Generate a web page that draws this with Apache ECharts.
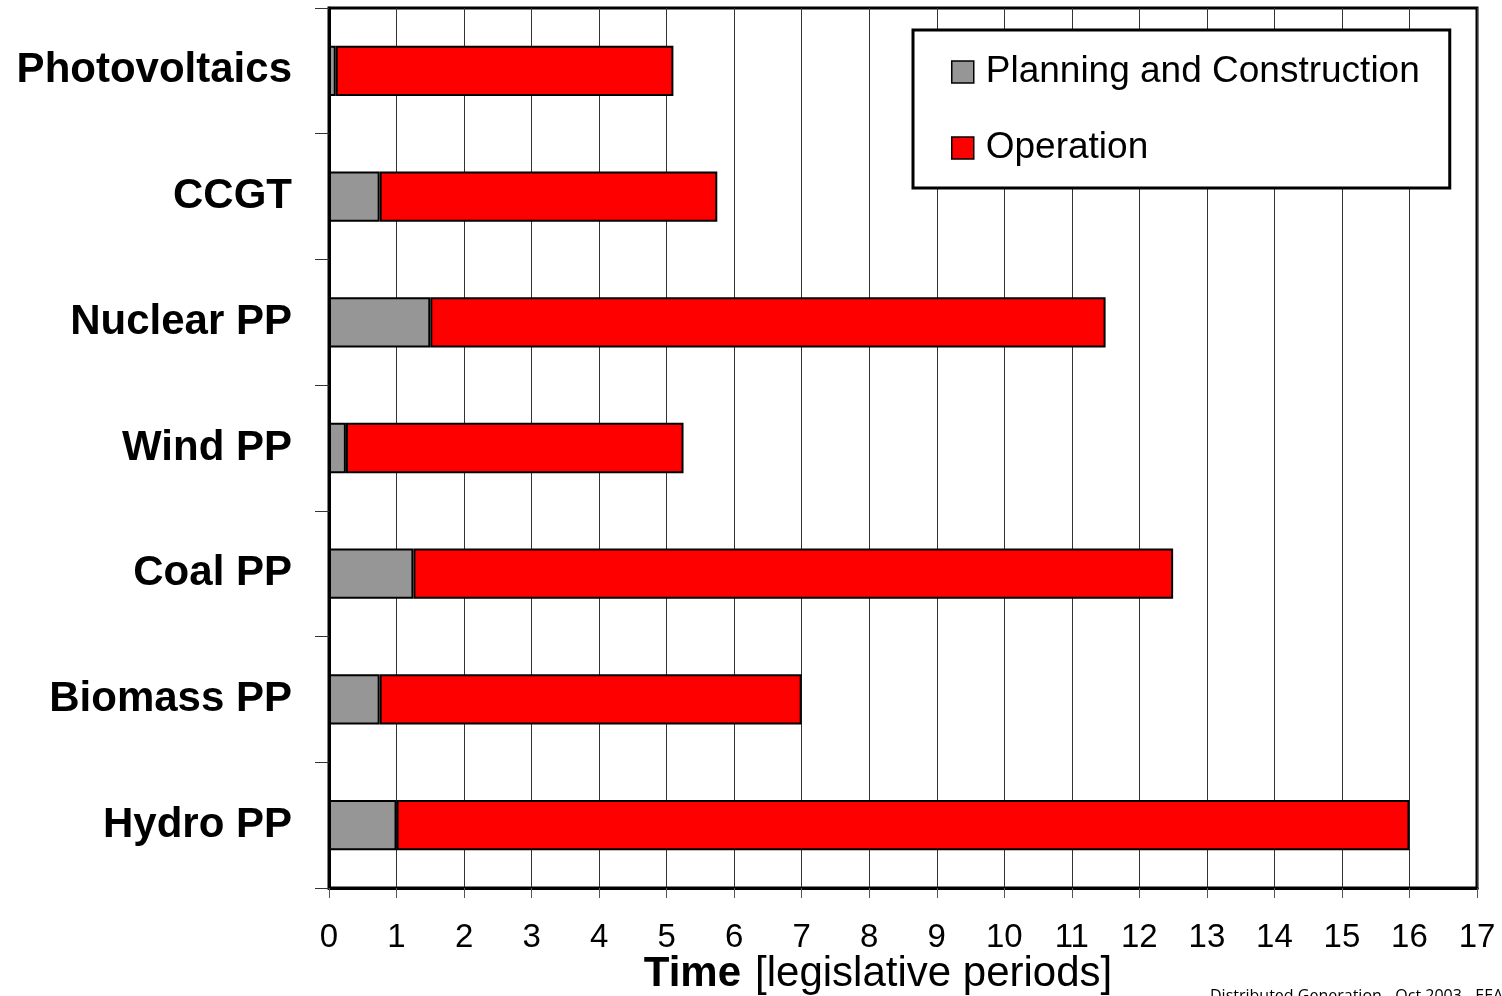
<!DOCTYPE html>
<html>
<head>
<meta charset="utf-8">
<script src="https://cdn.jsdelivr.net/npm/echarts@6/dist/echarts.min.js"></script>
<style>
  html, body { margin: 0; padding: 0; background: #fff; }
  #chart { width: 1502px; height: 996px; }
</style>
</head>
<body>
<div id="chart"></div>
<script>
// Power plant types, top to bottom
const plantTypes = ['Photovoltaics', 'CCGT', 'Nuclear PP', 'Wind PP', 'Coal PP', 'Biomass PP', 'Hydro PP'];
// Duration in legislative periods
const planningConstruction = [0.1, 0.75, 1.5, 0.25, 1.25, 0.75, 1.0];
const operation = [5.0, 5.0, 10.0, 5.0, 11.25, 6.25, 15.0];
const seriesNames = ['Planning and Construction', 'Operation'];
const xTicks = { min: 0, max: 17, interval: 1 };

const chart = echarts.init(document.getElementById('chart'));
const FONT = 'Liberation Sans, Arial, sans-serif';

chart.setOption({
  animation: false,
  backgroundColor: '#ffffff',
  grid: {
    left: 329, right: 25, top: 8, bottom: 108,
    show: true, borderColor: '#000', borderWidth: 3, backgroundColor: 'transparent'
  },
  legend: {
    orient: 'vertical',
    left: 913, top: 30,
    padding: [22, 30, 20, 38],
    itemGap: 36,
    itemWidth: 22, itemHeight: 22,
    borderColor: '#000', borderWidth: 3,
    backgroundColor: '#fff',
    icon: 'rect',
    textStyle: { fontFamily: FONT, fontSize: 37, color: '#000', lineHeight: 40, padding: [0, 0, 0, 7] },
    itemStyle: { borderColor: '#000', borderWidth: 1.5 },
    data: seriesNames
  },
  xAxis: {
    type: 'value',
    min: xTicks.min, max: xTicks.max, interval: xTicks.interval,
    axisLine: { show: true, lineStyle: { color: '#000', width: 3 } },
    axisTick: { show: true, length: 10, lineStyle: { color: '#555', width: 1 } },
    axisLabel: { fontFamily: FONT, fontSize: 33, color: '#000', margin: 33 },
    splitLine: { show: true, lineStyle: { color: '#333', width: 1 } }
  },
  yAxis: {
    type: 'category',
    inverse: true,
    data: plantTypes,
    axisLine: { show: true, lineStyle: { color: '#000', width: 3 } },
    axisTick: { show: true, length: 14, lineStyle: { color: '#333', width: 1 } },
    axisLabel: { fontFamily: FONT, fontSize: 42, fontWeight: 'bold', color: '#000', margin: 37, padding: [6, 0, 0, 0] }
  },
  series: [
    {
      name: seriesNames[0], type: 'bar', stack: 'time',
      barWidth: '40%',
      data: planningConstruction,
      itemStyle: { color: '#969696', borderColor: '#000', borderWidth: 2 }
    },
    {
      name: seriesNames[1], type: 'bar', stack: 'time',
      barWidth: '40%',
      data: operation,
      itemStyle: { color: '#ff0000', borderColor: '#000', borderWidth: 2 }
    }
  ],
  graphic: [
    {
      type: 'text', x: 878, y: 974,
      style: {
        text: '{b|Time}{r|[legislative periods]}',
        align: 'center', verticalAlign: 'middle',
        rich: {
          b: { fontFamily: FONT, fontSize: 42, fontWeight: 'bold', fill: '#000' },
          r: { fontFamily: FONT, fontSize: 42, fill: '#000', padding: [0, 0, 0, 14] }
        }
      }
    },
    {
      type: 'text', left: 1210, top: 988,
      style: { text: 'Distributed Generation - Oct 2003 - EEA', fontFamily: 'Open Sans, sans-serif', fontSize: 16, fill: '#000' }
    }
  ]
});
</script>
</body>
</html>
